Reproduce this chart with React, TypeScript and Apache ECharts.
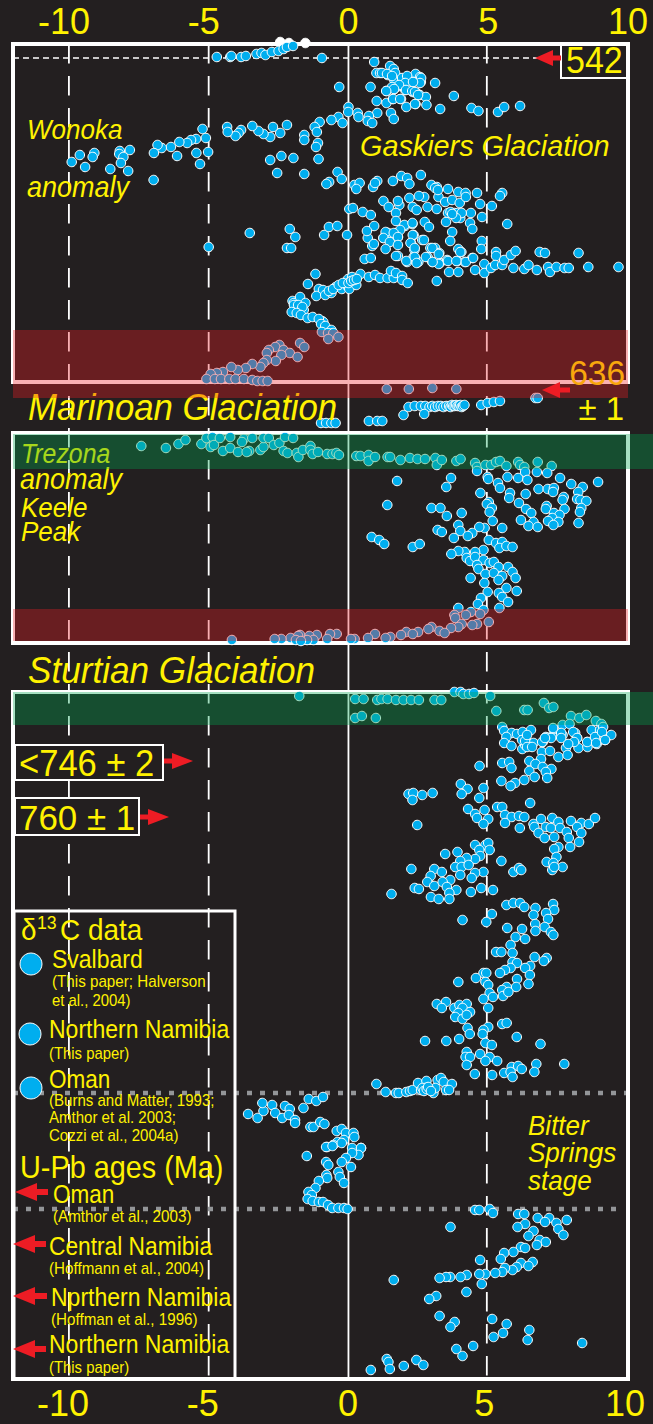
import React, { useEffect, useRef } from "react";
import * as echarts from "echarts";

const tickValues = [-10, -5, 0, 5, 10];
const dashedGuides = [-10, -5, 4.95];
const solidGuides = [0];

const aboveFrame = [[-2.44,42],[-2.13,43],[-1.54,43]];

const nama = [[-4.71,57],[-4.23,57],[-4.19,56],[-3.84,57],[-3.67,56],[-3.29,54],[-3.11,53],[-2.97,55],[-2.74,52],[-2.5,51],[-2.32,49],[-2.2,47],[-1.98,46],[-0.95,58],
[0.92,62],[1.49,66],[1.62,69],[1.0,73],[1.13,73],[1.4,75],[1.67,73],[1.62,79],[1.92,79],[2.12,77],[2.4,74],[2.56,77],[2.32,82],[2.59,82],[3.1,83],[-0.33,87],[0.79,87],[1.36,91],[1.65,89],[1.82,86],[2.03,90],[2.3,92],[2.44,93],[2.55,95],[2.77,97],[3.77,96],[1.01,101],[1.36,103],[1.59,99],[1.88,99],[2.07,107],[2.4,104],[2.79,105],[3.28,109],[4.4,108],[4.65,111],[5.35,112],[5.57,107],[6.14,106],
[1.2,73],[1.38,74],[1.56,76],[1.92,78],[2.1,76],[2.6,78],[2.56,83],[2.03,83],[1.81,85],[1.56,87],[1.63,89],[1.35,91],[2.06,90],[2.28,91],[2.38,92],[2.49,95],[2.31,82],[1.6,99],[1.85,99],[2.38,104],
[0,107],[-0.01,112],[1.03,113],[1.52,113],[1.62,119],[0.33,113],[0.36,117],[0.73,116],[0.69,121],[0.85,123],[-0.36,117],[-0.61,120],[-0.21,123],[-1.03,122],[-1.21,127],[-1.13,132],[-1.58,135],[-1.58,140],[-1.09,143],[-1.16,147],[-1.07,159],
[-2.2,125],[-2.44,133],[-2.7,127],[-2.8,137],[-3.04,134],[-3.22,131],[-3.44,126],[-3.84,130],[-3.93,133],[-4.04,136],[-4.34,127],[-4.32,132],
[-5.22,129],[-5.1,138],[-5.45,139],[-5.63,140],[-5.77,143],[-6.05,142],[-6.35,147],[-6.68,148],[-6.83,145],[-6.96,153],[-6.13,156],[-5.44,153],[-5.02,152],[-5.31,164],
[-7.82,150],[-8.18,151],[-8.2,154],[-8.05,157],[-8.14,163],[-7.88,171],[-8.52,169],[-9.09,153],[-9.15,157],[-9.61,155],[-9.9,162],[-9.42,167],[-6.97,180],
[-2.8,160],[-2.4,156],[-1.97,158],[-2.55,173],[-1.58,174],[-0.39,172],[-0.24,179],[-0.69,182],[-0.79,184]];

const gaskiers = [[0.21,185],[0.4,183],[0.28,189],[0.88,187],[1.03,181],[0.95,183],[1.59,181],[1.89,176],[2.1,178],[2.18,184],[2.59,175],[2.97,185],[3.16,187],[3.56,189],[3.93,192],[4.19,193],[4.6,193],[5.5,193],[5.42,196],
[1.25,201],[1.44,207],[1.82,205],[2.18,198],[2.71,197],[2.52,196],[3.22,197],[3.46,202],[3.71,200],[3.98,203],[4.2,197],[4.71,204],[5.13,206],[2.3,207],[2.44,210],[2.83,207],[3.16,209],[3.56,213],[3.79,213],[4,218],[4.38,213],[4.78,217],[3.49,222],[2.73,222],[2.88,227],[4.35,223],[4.43,229],[5.68,224],[3.71,232],[3.64,241],[4.77,241],[4.75,249],
[3.1,188],[3.2,190],[1.77,201],[3.9,213],[4.05,213],[3.65,212],[3.85,218],[3.71,214],[2.02,226],[2.29,224],[1.42,233],[0.69,238],[1.25,238],[1.77,237],[2.33,235],[2.64,240],[2.24,243],[2.36,250],[2.33,257],[1.77,256],[2.1,262],[2.5,262],[2.83,257],[2.93,248],[3.1,248],[3.25,253],[3,262],[3.27,263],[3.53,260],[3.9,261],[4.16,262],[4.43,258],[3.93,249],[4.04,252],
[0.03,209],[0.16,208],[0.51,212],[0.8,215],[1.7,213],[1.7,221],[2,225],[2.29,223],[1.85,230],[2.3,235],[2.7,240],[1.33,232],[0.92,226],[0.66,231],[1.62,233],[1.25,238],[1.48,242],[1.77,237],[1.77,245],[2.22,243],[2.37,248],[0.85,246],[0.91,244],[1.33,249],[0.58,259],[0.8,258],[1.7,256],[2.07,261],[2.37,257],[2.44,263],[2.77,257],[3.23,264],[3,248],[3.23,254],[3.01,262],[3.56,261],[3.86,261],[4.2,262],[4.46,258],[4,252],[3.6,272],[3.93,272],[4.53,270],[4.86,264],[4.86,273],[5.1,268],[5.28,252],[5.28,256],[5.25,265],[5.5,265],[5.57,260],[5.81,255],[5.98,251],[5.9,268],[6.29,269],[6.44,265],[6.74,270],[6.84,252],[7.03,253],[7.14,267],[7.21,272],[7.44,267],[7.73,268],[7.88,268],[8.23,253],[8.58,267],[9.66,267],[3.16,281],
[-3.53,233],[-5.0,247],[-2.1,229],[-1.9,237],[-2.2,248],[-2.05,248],[-0.87,235],[-0.7,227],[-0.4,226],[-0.05,235]];

const marinoanRise = [[-1.18,274],[-1.45,284],[-1.06,289],[-0.91,290],[-1.15,296],[-0.83,295],[-0.61,293],[-0.46,287],[-0.24,289],[-0.01,287],[0.03,289],[0.28,285],[-0.01,279],[0.13,277],[0.43,274],[0.73,277],[0.95,275],[1.13,278],[1.4,278],[1.62,278],[1.52,271],[1.7,273],[1.92,276],[1.92,280],[2.12,283],
[-0.7,291],[-0.55,289],[-0.35,285],[-0.2,283],[0,283],[0.1,281],[0.2,280],[0.3,279],[-2,301],[-1.95,303],[-1.9,308],[-1.75,309],[-1.6,310],[-0.95,321],[-0.9,322],
[-1.73,297],[-1.54,303],[-1.95,305],[-1.8,305],[-1.65,307],[-2.03,312],[-1.85,313],[-1.7,315],[-1.46,318],[-1.28,317],[-1.06,319],[-0.98,324],[-0.83,326],[-0.61,330],[-0.95,332],[-0.73,333],[-0.54,333],[-0.36,337],[-0.72,339],
[-1.73,343],[-1.58,347],[-2.47,345],[-2.62,347],[-2.85,350],[-2.92,353],[-2.32,350],[-2.1,353],[-1.82,357],[-2.4,355],[-2.6,361],[-2.92,360],[-3.04,363],[-3.15,367],[-3.44,364],[-3.67,368],[-3.96,370],[-4.19,367],[-4.49,372],[-4.71,373],[-4.93,374],
[-5.08,379],[-4.78,379],[-4.56,379],[-4.26,379],[-4.04,379],[-3.74,379],[-3.44,380],[-3.26,381],[-3.07,381],[-2.89,381],
[1.37,389],[2.16,389],[3,388],[3.86,389],[6.69,398],[6.77,398]];

const marinoanCap = [[1.97,415],[2.15,407],[2.37,406],[2.59,406],[2.75,406],[2.9,407],[3.0,406],[3.1,407],[3.2,406],[3.3,406],[3.4,407],[3.5,406],[3.6,406],[3.65,407],[3.7,405],[3.75,406],[3.8,406],[3.85,405],[3.9,406],[3.95,406],[4.0,405],[4.05,407],[4.1,406],[4.15,405],[2.71,414],[4.75,405],[4.98,403],[5.2,402],[5.42,401],
[-0.98,423],[-0.8,423],[-0.61,423],[-0.46,423],[0.73,421],[1.03,421],[1.21,421]];

const trezona = [[-7.41,446],[-6.53,448],[-6.08,444],[-5.83,440],[-5.26,444],[-5.08,438],[-4.86,437],[-4.93,447],[-4.81,445],[-4.6,438],[-4.49,451],[-4.23,437],[-4.23,448],[-3.95,452],[-3.74,439],[-3.81,442],[-3.44,438],[-3.55,451],[-3.64,452],[-3.15,450],[-3.04,447],[-3.04,438],[-2.85,438],[-2.67,445],[-2.47,443],[-2.27,437],[-1.98,438],[-2.32,451],[-2.18,453],[-1.85,453],[-1.79,457],[-1.63,450],[-1.36,446],[-1.36,450],[-1.28,454],[-1.09,452],[-0.76,454],[-0.57,454],[-0.43,453],[-0.34,455],
[0.28,456],[0.43,456],[0.72,455],[0.72,461],[0.95,457],[1.4,457],[1.49,457],[1.86,460],[2.2,458],[2.47,459],[2.74,459],[3.11,458],[3.16,465],[3.34,460],[3.86,461],[4.01,459],[4.53,463],[4.6,467],[4.9,465],[5.1,465],[5.28,462],[5.42,461],[5.65,466],[6.07,462],[6.14,465],[6.29,467],[6.77,462],[7.27,466]];

const keelePeak = [[4.6,471],[4.98,477],[5,479],[3.67,478],[3.5,487],[1.74,481],[5.69,477],[6.07,478],[6.32,472],[6.4,480],[6.74,472],[7.11,473],[7.57,478],[7.97,484],[8.38,487],[8.93,482],[5.35,483],[5.42,488],[4.72,493],[5.78,493],[6.34,494],[6.8,489],[7.13,489],[7.35,488],[7.32,492],[7.7,497],[7.66,500],[8.22,492],[8.18,499],[8.3,500],[8.51,501],[5.75,498],[6.1,503],[7.09,506],[7.06,509],[5.02,502],[4.95,504],[5.13,508],[5.05,512],[2.97,508],[3.29,508],[1.39,505],[3.52,516],[4.05,513],[6.35,509],[6.54,513],[7.73,509],[8.33,508],[8.28,512],[7.35,513],[7.55,515],[7.29,518],[7.14,521],[7.51,522],[7.33,525],[6.17,520],[6.62,522],[6.44,526],[6.77,527],[8.23,523],[5.16,521],[5.5,528],[4.87,528],[4.68,527],[3.93,525],[4,531],[4.43,533],[4.27,536],[3.77,538],[3.19,530],[3.34,532],[0.83,537],[1.1,540],[1.28,544],[2.3,547],[2.55,544],
[5.02,540],[5.28,543],[5.5,542],[5.4,548],[5.65,546],[5.87,547],[4.83,550],[4.53,552],[4.16,552],[3.93,551],[3.68,554],[4.23,558],[4.35,561],[4.53,557],[4.83,560],[5.05,563],[5.2,562],[4.6,565],[4.65,569],[5.37,567],[5.71,567],[4.9,574],[5.2,573],[5.5,576],[5.87,572],[5.98,578],[4.37,578],[5.37,580],[4.86,583],[5.65,588],[6.02,591],[4.98,592],[5.38,593],[5.5,597],[4.74,598],[4.63,604],[5.71,602],[5.4,608],[3.93,608],
[4.83,610],[4.38,612],[3.79,615],[4.2,615],[4.71,614],[3.82,618],[5.02,622],[4.6,624],[4.43,625],[4.05,624],[3.93,627],[3.67,628],[2.97,627],[2.86,629],[3.26,631],[3.44,633],[2.49,632],[2.07,632],[2.3,634],[1.88,635],[1.5,637],[1.33,638],[0.95,634],[0.7,638],[0.22,639],[0.09,639],
[-0.42,634],[-0.66,634],[-0.76,639],[-1.13,635],[-1.4,636],[-1.25,640],[-1.48,640],[-1.73,635],[-1.8,636],[-2.07,638],[-2.4,639],[-2.64,639],[-1.88,640],[-1.7,641],[-4.17,640]];

const sturtianCap = [[-1.76,696],[0.24,699],[0.54,699],[1.03,700],[1.18,699],[1.4,699],[1.7,700],[1.97,700],[2.24,700],[2.52,700],[3.08,700],[3.32,700],[3.79,692],[4.01,692],[4.11,694],[4.31,694],[4.49,693],[5.07,696],[5.29,711],[6.29,710],[6.41,710],[6.99,703],[7.18,708],[7.33,707],[0.24,718],[0.48,716],[0.98,718],[7.96,716],[8.26,718],[8.51,715],[8.85,721],[7.66,725],[7.91,724],[9.05,724]];

const preSturtian = [[5.5,727],[5.57,731],[5.84,733],[6.03,734],[5.65,737],[6.23,732],[6.53,730],[6.34,739],[5.57,743],[5.83,746],[6.22,749],[6.32,745],[6.62,743],[6.95,742],[7.06,737],[7.29,736],[7.33,729],[7.66,735],[8.11,733],[8.18,738],[7.78,748],[8.23,748],[8.55,742],[8.55,747],[8.88,744],[9.18,740],[9.4,735],[8.7,730],[9,730],
[6.21,740],[6.32,741],[6.39,735],[6.39,747],[6.57,747],[6.93,742],[7.25,738],[7.61,733],[7.61,738],[8.04,732],[8.18,738],[8.07,742],[7.86,744],[8.54,742],[8.82,737],[9.11,727],[9.07,732],[8.86,743],[9.18,740],[7.32,728],[7.03,738],
[6.92,752],[7.21,751],[7.51,757],[7.84,755],[6.89,759],[6.47,761],[5.5,763],[5.75,762],[5.83,768],[4.69,766],[6.69,764],[6.47,771],[6.95,767],[7.26,769],[7.06,772],[7.11,778],[6.66,777],[6.29,780],[5.96,783],[5.8,786],[5.47,781],
[4.02,784],[4.26,789],[4.05,794],[4.68,798],[4.83,788],[2.15,794],[2.32,793],[2.29,800],[2.64,795],[3.01,793],
[4.28,809],[4.53,814],[4.87,810],[4.6,818],[5,819],[4.83,824],[5.32,807],[6.5,803],[5.5,807],[5.6,815],[5.84,817],[5.6,823],[6.1,816],[6.29,817],[6.13,828],[2.46,825],
[6.62,824],[6.89,819],[7.29,818],[7.51,822],[6.65,827],[7.06,827],[6.8,833],[7.02,838],[7.36,837],[7.24,828],[7.96,821],[7.57,828],[8.33,823],[8.6,824],[8.82,818],[8.18,827],[7.81,832],[8.33,833],[7.88,838],[8.25,842],[7.93,847],[7.51,847],[7.36,849],
[4.53,845],[4.9,845],[5,843],[4.68,850],[5.05,850],[3.9,852],[3.46,854],[4.71,856],[5.47,861],[4.53,859],[4.23,858],[4,861],[3.82,867],[4.05,867],[4.3,865],[4.83,872],[4.53,873],[4.41,878],[4,875],[2.25,869],[3.07,869],[3.34,872],[2.94,876],[2.82,882],[3.07,886],[3.64,880],[3.37,882],[3.52,887],[3.86,890],[3.61,893],[4.38,892],[4.75,888],[5.17,890],[2.37,888],[2.52,889],[1.54,894],[2.95,897],[3.23,899],[3.61,899],
[5.9,872],[6.1,868],[6.18,870],[7.09,862],[7.44,857],[7.33,863],[7.66,867],[7.29,870],[7.36,867],
[5.65,905],[5.9,903],[6.14,903],[6.29,907],[6.69,908],[7.32,904],[7.36,910],[6.62,915],[7.07,913],[7.14,919],[5.13,914],[4.08,920],[4.93,922],[5.68,928],[6.21,929],[6.68,924],[6.69,931],[7.02,927],[7.24,932],[7.33,935],[5.98,937],[6.32,939],[5.8,945],[5.28,952],[5.47,952],[5.87,953],[6.66,957],[7.09,958],[6.99,961],[5.87,962],[6.03,963],[6.5,966],[6.32,968],[5.8,968],[5.6,970],[5.42,973],[4.83,973],[4.93,973],[6.49,975],[6.03,979],[4.56,978],[3.93,982],[4.9,982],[5,985],[6.44,984],[6,987],[5.66,987],[5.5,990],[5.05,993],[5.17,997],[5.53,996],[5.72,992],[4.83,999],[5,1008],[3.16,1004],[3.49,1002],[3.34,1008],[3.79,1008],[3.97,1005],[4.23,1004],[4.08,1008],[4.35,1012],[3.93,1013],[3.82,1017],[4.08,1019],[4.23,1015],
[5.5,1024],[5.66,1023],[5,1027],[4.26,1028],[4.34,1034],[4.83,1030],[4.8,1034],[2.74,1041],[3.5,1041],[3.96,1039],[4.9,1043],[5.13,1045],[6.02,1037],[6.87,1044],[4.23,1052],[4.19,1057],[4.71,1054],[4.35,1057],[5.05,1057],[4.9,1061],[5.32,1061],[4.23,1065],[6.72,1064],[7.72,1064],[4.52,1074],[5.14,1075],[5.84,1067],[6.07,1066],[6.2,1069],[6.65,1072],[5.57,1073],[5.8,1072],[5.87,1077]];

const bitterSprings = [[1,1084],[1.33,1092],[1.7,1093],[1.8,1093],[2.07,1092],[2.2,1091],[2.3,1090],[2.49,1083],[2.6,1090],[2.79,1081],[2.74,1088],[2.89,1090],[3.04,1093],[3.19,1080],[3.31,1078],[3.41,1082],[3.49,1090],[3.7,1084],[3.6,1090],[3.11,1088],[2.65,1088],[2.7,1091],[2.8,1089],[2.85,1087],[2.95,1091],
[-3.59,1114],[-3.25,1118],[-3.04,1111],[-3.08,1103],[-2.73,1105],[-2.62,1113],[-2.37,1118],[-2.27,1106],[-2.1,1109],[-2.13,1115],[-1.91,1120],[-1.91,1123],[-1.61,1108],[-1.42,1099],[-1.15,1101],[-0.91,1097],[-1.36,1127],[-1.25,1127],[-1.01,1122],[-0.86,1124],[-0.42,1131],[-0.24,1129],[-0.09,1133],[0.18,1133],[0.21,1137],[-0.39,1142],[-0.16,1140],[-0.54,1145],[-0.76,1147],[0.13,1148],[0.45,1148],
[-0.8,1147],[-0.57,1146],[-0.24,1143],[0.45,1148],[0.36,1155],[0.13,1153],[-0.09,1158],[-0.24,1162],[0.09,1167],[-1.49,1156],[-0.8,1162],[-0.72,1165],[-0.36,1172],[-0.31,1177],[-0.16,1183],[-0.79,1175],[-0.76,1178],[-1.06,1181],[-1.18,1188],[-1.43,1192],[-1.31,1195],[-1.46,1199],[-1.28,1201],[-1.06,1202],[-0.91,1202],[-0.73,1205],[-0.58,1208],[-0.36,1208],[-0.16,1208],[-0.03,1209]];

const lowerStrata = [[4.53,1210],[4.68,1210],[5.05,1209],[5.17,1213],[6.07,1214],[6.29,1214],[6.77,1218],[7.18,1218],[7.81,1220],[7.44,1223],[7.51,1229],[7.69,1235],[7.03,1222],[6.32,1224],[6.05,1227],[6.62,1231],[6.44,1236],[3.65,1227],[6.84,1240],[7.06,1242],[6.74,1245],[6.17,1247],[6.32,1248],[5.9,1252],[5.57,1253],[5.45,1259],[4.71,1260],[6.17,1263],[6.59,1262],[6.44,1266],[6.02,1267],[5.87,1270],[5.6,1268],[5.5,1272],[5.25,1273],[4.9,1274],[4.68,1274],[4.23,1275],[4.01,1277],[3.64,1277],[3.49,1277],[3.26,1278],[4.77,1284],[1.62,1280],[4.22,1292],[3.14,1296],[2.89,1299],[3.26,1316],[3.8,1322],[3.65,1327],[5.14,1319],[5.66,1324],[6.47,1330],[5.53,1333],[5.19,1337],[6.41,1340],[8.36,1343],[4.46,1346],[3.86,1349],[4.08,1356],[1.37,1359],[1.43,1362],[1.48,1369],[0.8,1370],[1.98,1366],[2.43,1360],[2.68,1365]];

const redBands = [[-12, 330, 10, 398], [-12, 609, 10, 641]];
const greenBands = [[-12, 434, 10.9, 469], [-12, 692, 10.9, 725]];

const BG = "#231F20";
const YELLOW = "#FFF200";
const RED = "#ED1C24";
const BLUE = "#00AEEF";
const FONT = "'Liberation Sans', Arial, sans-serif";

function txt(text: string, x: number, y: number, size: number, sx = 1, italic = false, align = "left", fill = YELLOW) {
  return {
    type: "text",
    z: 6,
    silent: true,
    x,
    y,
    scaleX: sx,
    style: { text, fill, fontSize: size, fontFamily: FONT, fontStyle: italic ? "italic" : "normal", align, verticalAlign: "middle", textAlign: align, textVerticalAlign: "middle" },
  };
}
function box(x: number, y: number, w: number, h: number, lineWidth: number, fill = "none", stroke = "#fff") {
  return { type: "rect", z: 3, silent: true, shape: { x, y, width: w, height: h }, style: { fill, stroke, lineWidth } };
}
function arrow(tip: number, tail: number, y: number, headLen = 21, half = 8.5, thick = 2.5) {
  const d = tail > tip ? 1 : -1;
  const b = tip + d * headLen;
  return {
    type: "polygon", z: 6, silent: true,
    shape: { points: [[tip, y], [b, y - half], [b, y - thick], [tail, y - thick], [tail, y + thick], [b, y + thick], [b, y + half]] },
    style: { fill: RED },
  };
}
function dot(cx: number, cy: number) {
  return { type: "circle", z: 6, silent: true, shape: { cx, cy, r: 11 }, style: { fill: BLUE, stroke: "#fff", lineWidth: 1 } };
}

function guide(name: string, x: number, type: any, width = 1.8) {
  return { name, type: "line", z: 1, silent: true, clip: false, symbol: "none", data: [[x, 44], [x, 1379]], lineStyle: { color: "#fff", width, type } };
}
function hline(name: string, x0: number, x1: number, y: number, color: string, width: number, type: any) {
  return { name, type: "line", z: 2, silent: true, clip: false, symbol: "none", data: [[x0, y], [x1, y]], lineStyle: { color, width, type } };
}
function dots(name: string, data: number[][], color = BLUE) {
  return { name, type: "scatter", z: 5, silent: true, clip: false, symbol: "circle", symbolSize: 9.5, data, itemStyle: { color, borderColor: "#fff", borderWidth: 1, opacity: 1 } };
}
function bands(name: string, data: number[][], color: string) {
  return {
    name, type: "custom", z: 10, silent: true, clip: false, data,
    encode: { x: [0, 2], y: [1, 3] },
    renderItem: (_: any, api: any) => {
      const a = api.coord([api.value(0), api.value(1)]);
      const b = api.coord([api.value(2), api.value(3)]);
      return { type: "rect", shape: { x: a[0], y: a[1], width: b[0] - a[0], height: b[1] - a[1] }, style: { fill: color } };
    },
  };
}

const tickFont = { color: YELLOW, fontSize: 36, fontFamily: FONT };

export default function App() {
  const ref = useRef<HTMLDivElement>(null);
  useEffect(() => {
    const chart = echarts.init(ref.current!, null, { renderer: "svg" });
    const axisBase = {
      type: "value", min: -12, max: 10, splitLine: { show: false }, axisLine: { show: false }, axisTick: { show: false },
    };
    chart.setOption({
      animation: false,
      backgroundColor: BG,
      grid: { left: 13, top: 44, width: 615, height: 1335, containLabel: false },
      xAxis: [
        {
          ...axisBase, position: "top",
          axisLabel: {
            ...tickFont, customValues: tickValues, margin: 5,
            formatter: (v: any) => (Number(v) < 0 ? `{n|${v}}` : `{p|${v}}`),
            rich: { n: { ...tickFont, padding: [0, 10, 0, 0] }, p: { ...tickFont } },
          },
        },
        {
          ...axisBase, position: "bottom",
          axisLabel: {
            ...tickFont, customValues: tickValues, margin: 6,
            formatter: (v: any) => (Number(v) < 0 ? `{n|${v}}` : Number(v) === 0 ? `{z|${v}}` : Number(v) === 5 ? `{f|${v}}` : `{t|${v}}`),
            rich: {
              n: { ...tickFont, padding: [0, 12, 0, 0] },
              z: { ...tickFont, padding: [0, 1, 0, 0] },
              f: { ...tickFont, padding: [0, 8, 0, 0] },
              t: { ...tickFont, padding: [0, 6, 0, 0] },
            },
          },
        },
      ],
      yAxis: { type: "value", inverse: true, min: 44, max: 1379, show: false, splitLine: { show: false } },
      series: [
        ...dashedGuides.map((v) => guide(`guide ${v}`, v, [19.5, 12.5])),
        ...solidGuides.map((v) => guide(`guide ${v}`, v, "solid")),
        hline("542 Ma", -12, 7.5, 58, "#fff", 1.5, [6, 4]),
        hline("Bitter Springs top", -12, 10, 1093, "#939598", 4.5, [5, 8]),
        hline("Bitter Springs base", -12, 9.8, 1209, "#939598", 4.5, [5, 8]),
        dots("Above frame", aboveFrame, "#fff"),
        dots("Nama", nama),
        dots("Gaskiers", gaskiers),
        dots("Marinoan rise", marinoanRise),
        dots("Marinoan cap", marinoanCap),
        dots("Trezona", trezona),
        dots("Keele Peak", keelePeak),
        dots("Sturtian cap", sturtianCap),
        dots("Pre-Sturtian", preSturtian),
        dots("Bitter Springs", bitterSprings),
        dots("Lower strata", lowerStrata),
        bands("Glaciation", redBands, "rgba(237,28,36,0.35)"),
        bands("Anomaly", greenBands, "rgba(0,166,81,0.35)"),
      ],
      graphic: [
        box(13, 44, 615, 338, 4),
        box(13, 433, 615, 210, 4),
        box(13, 692, 615, 687, 4),
        box(561, 45, 66, 33, 2, BG),
        box(15, 745, 148, 35, 2, BG),
        box(15, 798, 124, 37, 2, BG),
        box(14, 911, 221, 468, 3),
        txt("542", 566, 61, 37, 0.92),
        txt("636", 625, 373, 36, 0.93, false, "right"),
        txt("± 1", 624, 408, 34, 0.97, false, "right"),
        txt("<746 ± 2", 19, 763, 36, 0.96),
        txt("760 ± 1", 19, 818, 36, 0.97),
        txt("Wonoka", 27, 130, 28, 0.93, true),
        txt("anomaly", 27, 187, 29, 0.93, true),
        txt("Gaskiers Glaciation", 360, 145, 30, 0.96, true),
        txt("Marinoan Glaciation", 28, 408, 37, 0.94, true),
        txt("Sturtian Glaciation", 28, 670, 37, 0.95, true),
        txt("Trezona", 21, 454, 27, 0.92, true),
        txt("anomaly", 20, 479, 29, 0.93, true),
        txt("Keele", 21, 508, 28, 0.93, true),
        txt("Peak", 21, 532, 28, 0.93, true),
        txt("Bitter", 528, 1126, 28, 0.93, true),
        txt("Springs", 528, 1153, 28, 0.93, true),
        txt("stage", 528, 1181, 28, 0.93, true),
        txt("δ", 21, 930, 30, 0.93),
        txt("13", 37, 922, 19, 0.93),
        txt("C data", 60, 930, 30, 0.93),
        dot(31, 964),
        dot(30, 1034),
        dot(31, 1088),
        txt("Svalbard", 52, 959, 25, 0.92),
        txt("(This paper; Halverson", 52, 981, 16, 0.95),
        txt("et al., 2004)", 52, 1000, 16, 0.93),
        txt("Northern Namibia", 49, 1029, 25, 0.92),
        txt("(This paper)", 49, 1053, 16, 0.93),
        txt("Oman", 49, 1079, 25, 0.9),
        txt("(Burns and Matter, 1993;", 49, 1100, 16, 0.94),
        txt("Amthor et al. 2003;", 49, 1117, 16, 0.94),
        txt("Cozzi et al., 2004a)", 49, 1135, 16, 0.94),
        txt("U-Pb ages (Ma)", 20, 1167, 31, 0.93),
        txt("Oman", 53, 1194, 25, 0.9),
        txt("(Amthor et al., 2003)", 53, 1216, 16, 0.95),
        txt("Central Namibia", 49, 1246, 25, 0.91),
        txt("(Hoffmann et al., 2004)", 49, 1268, 16, 0.95),
        txt("Nprthern Namibia", 51, 1297, 25, 0.92),
        txt("(Hoffman et al., 1996)", 51, 1319, 16, 0.95),
        txt("Northern Namibia", 49, 1344, 25, 0.92),
        txt("(This paper)", 49, 1367, 16, 0.93),
        arrow(535, 561, 58, 18, 8, 2.5),
        arrow(542, 570, 390, 18, 8, 2.5),
        arrow(193, 164, 761, 21, 8, 2.5),
        arrow(169, 140, 817, 21, 8, 2.5),
        arrow(15, 48, 1192, 22, 9, 3),
        arrow(13, 46, 1244, 22, 9, 3),
        arrow(13, 47, 1296, 22, 9, 3),
        arrow(13, 46, 1349, 22, 9, 3),
      ],
    });
    return () => chart.dispose();
  }, []);
  return <div ref={ref} style={{ position: "fixed", left: 0, top: 0, width: 653, height: 1424 }} />;
}
